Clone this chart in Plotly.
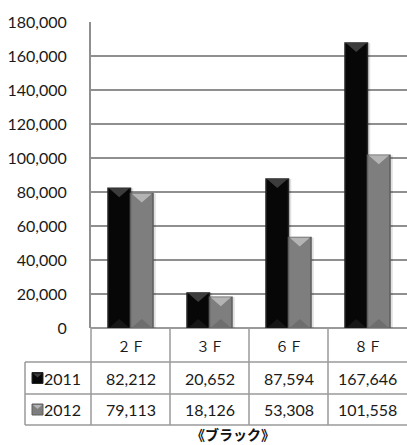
import plotly.graph_objects as go

# ---- data ----
floors = ["２Ｆ", "３Ｆ", "６Ｆ", "８Ｆ"]
series_names = ["2011", "2012"]
values_2011 = [82212, 20652, 87594, 167646]
values_2012 = [79113, 18126, 53308, 101558]
title_text = "《ブラック》"

# ---- layout geometry (pixels) ----
W, H = 407, 445
PL, PR, PT, PB = 91, 407, 22, 328          # plot area
ROW_CAT, ROW_A, ROW_B = 362, 394, 425      # bottom edges of table rows
LEG_LEFT = 25                              # left edge of legend column
YMAX = 180000

def px_x(px):
    return (px - PL) / (PR - PL)

def px_y(py):
    return (PB - py) / (PB - PT)

data_per_px = YMAX / (PB - PT)
BAR_W = 0.285
BEVEL = 9 * data_per_px

styles = [
    dict(body="#070707", edge="#262626", top="#3c3c3c", bottom="#171717"),
    dict(body="#7e7e7e", edge="#5e5e5e", top="#b4b4b4", bottom="#6e6e6e"),
]
all_values = [values_2011, values_2012]
xs = list(range(len(floors)))

fig = go.Figure()

# soft shadow to the right of each bar
for s, vals in enumerate(all_values):
    fig.add_trace(go.Bar(
        x=xs, y=vals, width=BAR_W, offset=-BAR_W + s * BAR_W + 0.035,
        marker=dict(color="rgba(0,0,0,0.12)", line=dict(width=0)),
        hoverinfo="skip", showlegend=False))

# main bars
for s, vals in enumerate(all_values):
    st = styles[s]
    fig.add_trace(go.Bar(
        x=xs, y=vals, width=BAR_W, offset=-BAR_W + s * BAR_W,
        name=series_names[s],
        marker=dict(color=st["body"], line=dict(color=st["edge"], width=1.5)),
        showlegend=False))

# bevel triangles at the top and bottom of every bar
for s, vals in enumerate(all_values):
    st = styles[s]
    tx, ty, bx, by = [], [], [], []
    for i, v in enumerate(vals):
        left = i - BAR_W + s * BAR_W
        right = left + BAR_W
        mid = (left + right) / 2
        inset = 0.012
        tx += [left + inset, right - inset, mid, left + inset, None]
        ty += [v, v, v - BEVEL, v, None]
        bx += [left + inset, right - inset, mid, left + inset, None]
        by += [0, 0, BEVEL, 0, None]
    fig.add_trace(go.Scatter(x=tx, y=ty, mode="lines", fill="toself",
                             fillcolor=st["top"], line=dict(width=0),
                             hoverinfo="skip", showlegend=False))
    fig.add_trace(go.Scatter(x=bx, y=by, mode="lines", fill="toself",
                             fillcolor=st["bottom"], line=dict(width=0),
                             hoverinfo="skip", showlegend=False))

GRID = "#8f8f8f"
TABLE = "#9a9a9a"
shapes = []

def hline(y_px, x0, x1, xref="paper"):
    shapes.append(dict(type="line", xref=xref, yref="paper",
                       x0=x0, x1=x1, y0=px_y(y_px), y1=px_y(y_px),
                       line=dict(color=TABLE, width=1.5)))

def vline(x, y0_px, y1_px, xref="x"):
    shapes.append(dict(type="line", xref=xref, yref="paper",
                       x0=x, x1=x, y0=px_y(y0_px), y1=px_y(y1_px),
                       line=dict(color=TABLE, width=1.5)))

# data table grid
for yb in (ROW_CAT, ROW_A, ROW_B):
    hline(yb, px_x(LEG_LEFT), 1)
vline(px_x(PL), PB, ROW_B, xref="paper")
vline(px_x(LEG_LEFT), ROW_CAT, ROW_B, xref="paper")
for i in xs[:-1]:
    vline(i + 0.5, PB, ROW_B)

annotations = []
NUM_FONT = dict(family="Lato, 'Open Sans', sans-serif", size=16, color="#1a1a1a")
CJK_FONT = dict(family="'Noto Sans CJK JP', sans-serif", size=14, color="#1a1a1a")

cat_mid = (PB + ROW_CAT) / 2
row_mids = [(ROW_CAT + ROW_A) / 2, (ROW_A + ROW_B) / 2]

def note(x, y, text, font, xref="paper", xanchor="center", yanchor="middle"):
    annotations.append(dict(x=x, y=y, xref=xref, yref="paper", text=text,
                            showarrow=False, font=font, borderpad=0,
                            xanchor=xanchor, yanchor=yanchor))

for i, f in enumerate(floors):
    note(i, px_y(cat_mid + 1), f, CJK_FONT, xref="x")
for s, vals in enumerate(all_values):
    for i, v in enumerate(vals):
        note(i, px_y(row_mids[s]), f"{v:,}", NUM_FONT, xref="x")
    # legend key + series label
    st = styles[s]
    k0, k1 = 32, 43
    ky0, ky1 = row_mids[s] - 5.5, row_mids[s] + 5.5
    shapes.append(dict(type="rect", xref="paper", yref="paper",
                       x0=px_x(k0), x1=px_x(k1), y0=px_y(ky1), y1=px_y(ky0),
                       fillcolor=st["body"], line=dict(color=st["edge"], width=1)))
    shapes.append(dict(type="path", xref="paper", yref="paper",
                       path=(f"M {px_x(k0+1)},{px_y(ky0+1)} L {px_x(k1-1)},{px_y(ky0+1)} "
                             f"L {px_x((k0+k1)/2)},{px_y(ky0+5)} Z"),
                       fillcolor=st["top"], line=dict(width=0)))
    note(px_x(43), px_y(row_mids[s]), series_names[s], NUM_FONT, xanchor="left")

# chart title under the table
note(px_x(233), px_y(H), f"<b>{title_text}</b>",
     dict(family="'Noto Sans CJK JP', sans-serif", size=14, color="#111111"),
     yanchor="bottom")

fig.update_layout(
    width=W, height=H,
    margin=dict(l=PL, r=W - PR, t=PT, b=H - PB),
    paper_bgcolor="white", plot_bgcolor="white",
    barmode="overlay",
    shapes=shapes, annotations=annotations,
    xaxis=dict(range=[-0.5, len(floors) - 0.5], showgrid=False, zeroline=False,
               showticklabels=False, showline=False, fixedrange=True),
    yaxis=dict(range=[0, YMAX], dtick=20000, tickformat=",",
               showgrid=True, gridcolor=GRID, gridwidth=1.5,
               showline=True, linecolor=GRID, linewidth=2,
               zeroline=True, zerolinecolor=TABLE, zerolinewidth=1.5,
               ticks="outside", ticklen=19, tickcolor="rgba(0,0,0,0)",
               tickfont=NUM_FONT, fixedrange=True),
)

fig.write_html("out.html")
